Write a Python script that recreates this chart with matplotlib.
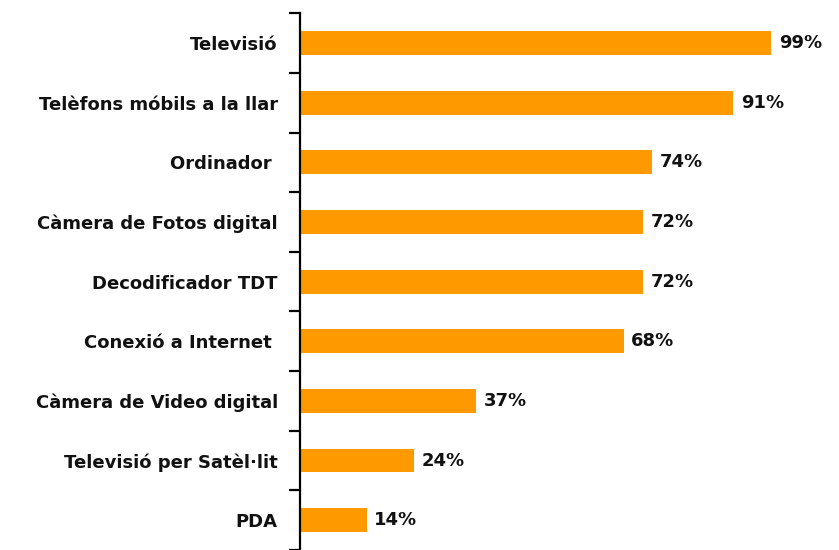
import matplotlib.pyplot as plt
import numpy as np

categories = ['Televisió', 'Telèfons móbils a la llar', 'Ordinador ',
              'Càmera de Fotos digital', 'Decodificador TDT', 'Conexió a Internet ',
              'Càmera de Video digital', 'Televisió per Satèl·lit', 'PDA']
values = [99, 91, 74, 72, 72, 68, 37, 24, 14]
value_labels = ['99%', '91%', '74%', '72%', '72%', '68%', '37%', '24%', '14%']

bar_color = '#FF9900'

fig = plt.figure(figsize=(8.39, 5.5), dpi=100)
# axes from x=300px to 822px, y from 13px to 550px
ax = fig.add_axes([300 / 839, 0.0, 522 / 839, (550 - 13.3) / 550])

y = np.arange(len(categories))
ax.barh(y, values, height=0.4, color=bar_color, zorder=2)

for yi, v, lab in zip(y, values, value_labels):
    ax.text(v + 1.6, yi, lab, va='center', ha='left', fontsize=13,
            fontweight='bold', color='#111111')

ax.set_xlim(0, 522 / 4.76)
ax.set_ylim(len(categories) - 0.5, -0.5)

for s in ['top', 'right', 'bottom']:
    ax.spines[s].set_visible(False)
ax.spines['left'].set_linewidth(1.6)
ax.spines['left'].set_color('black')

ax.set_xticks([])
ax.set_yticks(y)
ax.set_yticklabels(categories, fontsize=13, fontweight='bold', color='#111111')
ax.tick_params(axis='y', which='major', length=0, pad=16)
ax.set_yticks(np.arange(-0.5, len(categories)), minor=True)
ax.tick_params(axis='y', which='minor', length=8, width=1.6, color='black')

fig.savefig('out.png', dpi=100)
